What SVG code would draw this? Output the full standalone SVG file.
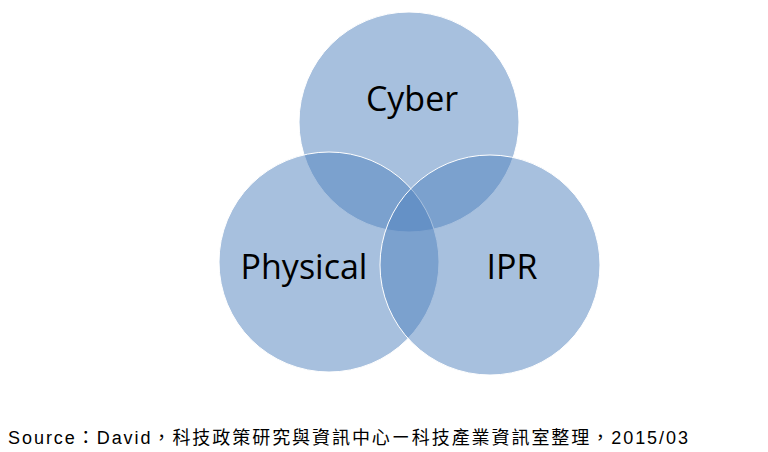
<svg xmlns="http://www.w3.org/2000/svg" width="768" height="452" viewBox="0 0 768 452">
<style>
.c{fill:#4f81bd;fill-opacity:0.5;stroke:#ffffff;stroke-width:1}
.l{font-family:"Open Sans","Liberation Sans",sans-serif;font-size:34px;fill:#000;text-anchor:middle}
.s{font-family:"Liberation Sans","Noto Sans CJK TC",sans-serif;font-size:18px;fill:#000}
</style>
<rect width="768" height="452" fill="#fff"/>
<g id="cyber"><circle class="c" cx="409" cy="122" r="110"/><text class="l" x="412" y="111">Cyber</text></g>
<g id="physical"><circle class="c" cx="329" cy="262" r="110"/><text class="l" x="304" y="279">Physical</text></g>
<g id="ipr"><circle class="c" cx="490" cy="265" r="110"/><text class="l" x="512" y="279">IPR</text></g>
<g id="connectors"/>
<text class="s" x="8" y="444" textLength="680" lengthAdjust="spacing">Source：David，科技政策研究與資訊中心ー科技產業資訊室整理，2015/03</text>
</svg>
